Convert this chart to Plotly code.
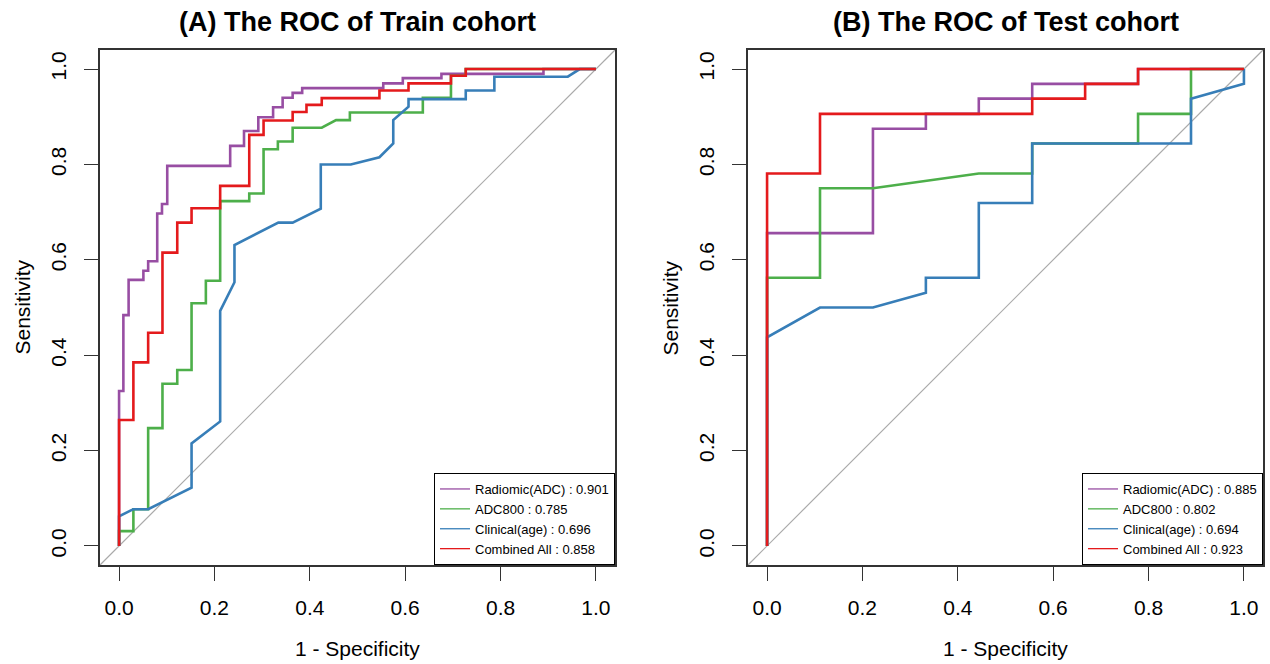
import plotly.graph_objects as go

# ---------------- data ----------------
tick_vals = [0.0, 0.2, 0.4, 0.6, 0.8, 1.0]
tick_text = ["0.0", "0.2", "0.4", "0.6", "0.8", "1.0"]

series_names = ["Radiomic(ADC)", "ADC800", "Clinical(age)", "Combined All"]
series_colors = ["#984EA3", "#4DAF4A", "#377EB8", "#E41A1C"]

train_auc = ["0.901", "0.785", "0.696", "0.858"]
test_auc = ["0.885", "0.802", "0.694", "0.923"]

# Train cohort (1 - specificity, sensitivity)
train_rad_x = [0, 0, 0.009, 0.009, 0.020, 0.020, 0.051, 0.051, 0.061, 0.061, 0.080, 0.080,
               0.090, 0.090, 0.101, 0.101, 0.233, 0.233, 0.262, 0.262, 0.292, 0.292, 0.323,
               0.323, 0.343, 0.343, 0.364, 0.364, 0.384, 0.384, 0.554, 0.554, 0.595, 0.595,
               0.676, 0.676, 0.890, 0.890, 1.0]
train_rad_y = [0, 0.325, 0.325, 0.484, 0.484, 0.558, 0.558, 0.577, 0.577, 0.597, 0.597, 0.697,
               0.697, 0.717, 0.717, 0.797, 0.797, 0.839, 0.839, 0.870, 0.870, 0.899, 0.899,
               0.920, 0.920, 0.940, 0.940, 0.950, 0.950, 0.960, 0.960, 0.970, 0.970, 0.981,
               0.981, 0.990, 0.990, 1.0, 1.0]

train_adc_x = [0, 0, 0.030, 0.030, 0.061, 0.061, 0.091, 0.091, 0.122, 0.122, 0.152, 0.152,
               0.182, 0.182, 0.212, 0.212, 0.273, 0.273, 0.303, 0.303, 0.333, 0.333, 0.364,
               0.364, 0.425, 0.455, 0.484, 0.484, 0.637, 0.637, 0.696, 0.696, 0.727, 0.727, 1.0]
train_adc_y = [0, 0.031, 0.031, 0.077, 0.077, 0.247, 0.247, 0.340, 0.340, 0.369, 0.369, 0.509,
               0.509, 0.556, 0.556, 0.723, 0.723, 0.739, 0.739, 0.832, 0.832, 0.848, 0.848,
               0.877, 0.877, 0.893, 0.893, 0.909, 0.909, 0.940, 0.940, 0.986, 0.986, 1.0, 1.0]

train_cli_x = [0, 0, 0.030, 0.061, 0.152, 0.152, 0.212, 0.212, 0.242, 0.242, 0.334, 0.364,
               0.423, 0.423, 0.486, 0.546, 0.575, 0.575, 0.607, 0.607, 0.727, 0.727, 0.787,
               0.787, 0.941, 0.966, 1.0]
train_cli_y = [0, 0.062, 0.077, 0.077, 0.122, 0.215, 0.261, 0.493, 0.553, 0.631, 0.678, 0.678,
               0.707, 0.800, 0.800, 0.815, 0.844, 0.893, 0.921, 0.937, 0.937, 0.955, 0.955,
               0.984, 0.984, 1.0, 1.0]

train_all_x = [0, 0, 0.030, 0.030, 0.061, 0.061, 0.091, 0.091, 0.122, 0.122, 0.152, 0.152,
               0.212, 0.212, 0.273, 0.273, 0.303, 0.303, 0.364, 0.364, 0.393, 0.393, 0.425,
               0.425, 0.546, 0.546, 0.607, 0.607, 0.696, 0.696, 0.727, 0.727, 1.0]
train_all_y = [0, 0.264, 0.264, 0.385, 0.385, 0.447, 0.447, 0.615, 0.615, 0.678, 0.678, 0.708,
               0.708, 0.755, 0.755, 0.862, 0.862, 0.892, 0.892, 0.910, 0.910, 0.925, 0.925,
               0.939, 0.939, 0.955, 0.955, 0.970, 0.970, 0.986, 0.986, 1.0, 1.0]

# Test cohort
test_rad_x = [0, 0, 0.222, 0.222, 0.333, 0.333, 0.444, 0.444, 0.556, 0.556, 0.778, 0.778, 1.0]
test_rad_y = [0, 0.656, 0.656, 0.875, 0.875, 0.906, 0.906, 0.938, 0.938, 0.969, 0.969, 1.0, 1.0]

test_adc_x = [0, 0, 0.111, 0.111, 0.222, 0.444, 0.556, 0.556, 0.778, 0.778, 0.889, 0.889, 1.0]
test_adc_y = [0, 0.5625, 0.5625, 0.750, 0.750, 0.781, 0.781, 0.844, 0.844, 0.906, 0.906, 1.0, 1.0]

test_cli_x = [0, 0, 0.111, 0.222, 0.333, 0.333, 0.444, 0.444, 0.556, 0.556, 0.889, 0.889, 1.0, 1.0]
test_cli_y = [0, 0.4375, 0.500, 0.500, 0.531, 0.5625, 0.5625, 0.719, 0.719, 0.844, 0.844, 0.938,
              0.969, 1.0]

test_all_x = [0, 0, 0.111, 0.111, 0.556, 0.556, 0.667, 0.667, 0.778, 0.778, 1.0]
test_all_y = [0, 0.781, 0.781, 0.906, 0.906, 0.938, 0.938, 0.969, 0.969, 1.0, 1.0]

titles = ["(A) The ROC of Train cohort", "(B) The ROC of Test cohort"]
x_title = "1 - Specificity"
y_title = "Sensitivity"

# ---------------- figure ----------------
W, H = 1270, 664
FONT = "Liberation Sans, Arial, Helvetica, sans-serif"

# plot boxes in pixels (left, right, top, bottom)
boxes = [(100, 615, 50, 565), (748, 1263, 50, 565)]

def px_x(p):
    return p / W

def px_y(p):
    return 1 - p / H

fig = go.Figure()

train = [(train_rad_x, train_rad_y), (train_adc_x, train_adc_y),
         (train_cli_x, train_cli_y), (train_all_x, train_all_y)]
test = [(test_rad_x, test_rad_y), (test_adc_x, test_adc_y),
        (test_cli_x, test_cli_y), (test_all_x, test_all_y)]

for panel, (data, aucs, xa, ya, leg) in enumerate(
        [(train, train_auc, "x", "y", "legend"), (test, test_auc, "x2", "y2", "legend2")]):
    for (xs, ys), name, col in zip(data, series_names, series_colors):
        fig.add_trace(go.Scatter(x=xs, y=ys, mode="lines", xaxis=xa, yaxis=ya,
                                 line=dict(color=col, width=2.6), showlegend=False,
                                 hoverinfo="skip"))
    for name, col, auc in zip(series_names, series_colors, aucs):
        fig.add_trace(go.Scatter(x=[None], y=[None], mode="lines", xaxis=xa, yaxis=ya,
                                 line=dict(color=col, width=1.3),
                                 name=f"{name} : {auc}", legend=leg, showlegend=True))

axis_common = dict(range=[-0.04, 1.04], tickvals=tick_vals, ticktext=tick_text,
                   ticks="outside", ticklen=14, tickwidth=1.3, tickcolor="#333333",
                   showline=True, mirror=True, linecolor="#333333", linewidth=1.5,
                   showgrid=False, zeroline=False, automargin=False,
                   tickfont=dict(family=FONT, size=21, color="black"), fixedrange=True)

(l1, r1, t1, b1), (l2, r2, t2, b2) = boxes
fig.update_layout(
    xaxis=dict(domain=[px_x(l1), px_x(r1)], anchor="y", ticklabelstandoff=9, **axis_common),
    yaxis=dict(domain=[px_y(b1), px_y(t1)], anchor="x", tickangle=-90,
               ticklabelstandoff=10, **axis_common),
    xaxis2=dict(domain=[px_x(l2), px_x(r2)], anchor="y2", ticklabelstandoff=9, **axis_common),
    yaxis2=dict(domain=[px_y(b2), px_y(t2)], anchor="x2", tickangle=-90,
                ticklabelstandoff=10, **axis_common),
)

legend_common = dict(bgcolor="white", bordercolor="black", borderwidth=1,
                     font=dict(family=FONT, size=13, color="black"),
                     xanchor="right", yanchor="bottom", tracegroupgap=0,
                     itemclick=False, itemdoubleclick=False)
fig.update_layout(
    legend=dict(x=px_x(r1), y=px_y(b1), **legend_common),
    legend2=dict(x=px_x(r2), y=px_y(b2), **legend_common),
)

shapes = []
annotations = []
for i, (l, r, t, b) in enumerate(boxes):
    sfx = "" if i == 0 else "2"
    shapes.append(dict(type="line", xref=f"x{sfx} domain", yref=f"y{sfx} domain",
                       x0=0, y0=0, x1=1, y1=1, line=dict(color="#AAAAAA", width=1.2),
                       layer="below"))
    cx = (l + r) / 2
    cy = (t + b) / 2
    annotations.append(dict(text=titles[i], xref="paper", yref="paper",
                            x=px_x(cx), y=px_y(22), xanchor="center", yanchor="middle",
                            showarrow=False,
                            font=dict(family=FONT, size=27, color="black", weight="bold")))
    annotations.append(dict(text=x_title, xref="paper", yref="paper",
                            x=px_x(cx), y=px_y(648), xanchor="center", yanchor="middle",
                            showarrow=False, font=dict(family=FONT, size=21, color="black")))
    annotations.append(dict(text=y_title, xref="paper", yref="paper",
                            x=px_x(l - 78), y=px_y(cy), xanchor="center", yanchor="middle",
                            textangle=-90, showarrow=False,
                            font=dict(family=FONT, size=21, color="black")))

fig.update_layout(width=W, height=H, margin=dict(l=0, r=0, t=0, b=0),
                  paper_bgcolor="white", plot_bgcolor="white",
                  shapes=shapes, annotations=annotations,
                  font=dict(family=FONT, color="black"))

fig.write_html("out.html", config={"displayModeBar": False})
